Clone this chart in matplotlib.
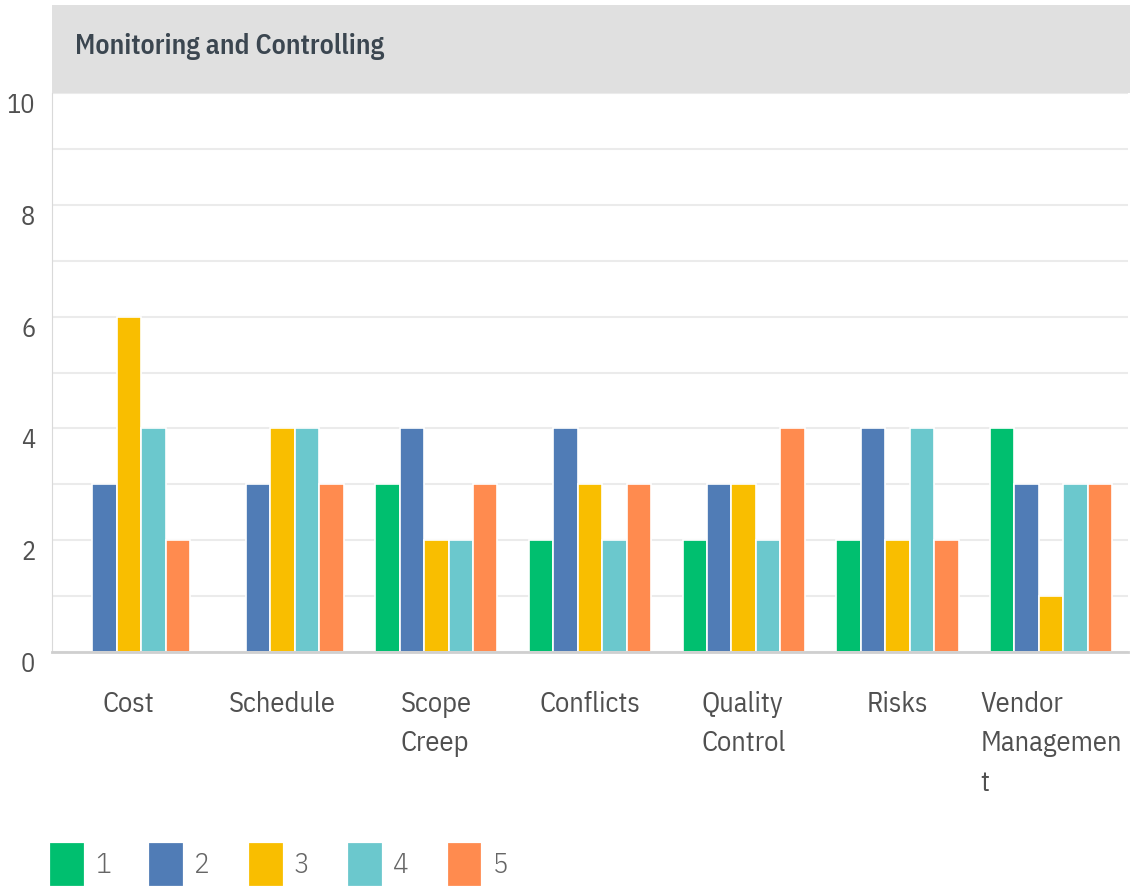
import matplotlib
matplotlib.use("Agg")
import matplotlib.pyplot as plt
import numpy as np
from matplotlib.patches import Patch, Rectangle

plt.rcParams["font.family"] = ["IBM Plex Sans Condensed", "DejaVu Sans"]

# 数据：每个类别下 1~5 各档的计数
categories = ["Cost", "Schedule", "Scope\nCreep", "Conflicts", "Quality\nControl",
              "Risks", "Vendor\nManagemen\nt"]
series_names = ["1", "2", "3", "4", "5"]
s1 = [0, 0, 3, 2, 2, 2, 4]
s2 = [3, 3, 4, 4, 3, 4, 3]
s3 = [6, 4, 2, 3, 3, 2, 1]
s4 = [4, 4, 2, 2, 2, 4, 3]
s5 = [2, 3, 3, 3, 4, 2, 3]
colors = ["#00BF6F", "#507CB6", "#F9BE00", "#6BC8CD", "#FF8B4F"]

W, H = 1145, 890
fig = plt.figure(figsize=(W / 100, H / 100), dpi=100)
ax = fig.add_axes([52 / W, 1 - 652 / H, (1128 - 52) / W, (652 - 93) / H])

# 灰色标题栏
fig.patches.append(Rectangle((52 / W, 1 - 93 / H), (1130 - 52) / W, 88 / H,
                             transform=fig.transFigure, facecolor="#e0e0e0",
                             edgecolor="none", zorder=0))
fig.text(75 / W, 1 - 47 / H, "Monitoring and Controlling", fontsize=20,
         fontweight=600, color="#3b4650", va="center", ha="left")

x = np.arange(len(categories))
bw = 0.159
for i, vals in enumerate([s1, s2, s3, s4, s5]):
    ax.bar(x + (i - 2) * bw, vals, width=bw, color=colors[i],
           edgecolor="white", linewidth=1.2, zorder=3)

ax.set_xlim(-0.5, len(categories) - 0.5)
ax.set_ylim(0, 10)
ax.set_yticks(range(0, 11, 2), [str(v) for v in range(0, 11, 2)], va="top")
ax.set_yticks(range(1, 11, 2), minor=True)
ax.grid(axis="y", which="both", color="#ebebeb", linewidth=1.5, zorder=0)
ax.tick_params(axis="y", which="both", length=0, pad=12, labelsize=19,
               labelcolor="#505050")
ax.set_xticks(x, categories)
ax.tick_params(axis="x", length=0, pad=28, labelsize=20.5, labelcolor="#505050")
for lbl in ax.get_xticklabels():
    lbl.set_multialignment("left")
    lbl.set_va("top")
    lbl.set_linespacing(1.6)

for side in ["top", "right"]:
    ax.spines[side].set_visible(False)
ax.spines["left"].set_color("#d9d9d9")
ax.spines["bottom"].set_color("#cfcfcf")
ax.spines["bottom"].set_linewidth(2)
ax.spines["bottom"].set_zorder(4)

handles = [Patch(facecolor=c, edgecolor=c, linewidth=2, joinstyle="round")
           for c in colors]
leg = fig.legend(handles, series_names, loc="center left",
                 bbox_to_anchor=(51 / W, 1 - 864 / H), ncol=5, frameon=False,
                 fontsize=21, labelcolor="#666666", handlelength=1.05,
                 handleheight=1.7, handletextpad=0.45, columnspacing=1.37,
                 borderpad=0, borderaxespad=0)
for t in leg.get_texts():
    t.set_fontweight(300)

fig.savefig("out.png", dpi=100)
